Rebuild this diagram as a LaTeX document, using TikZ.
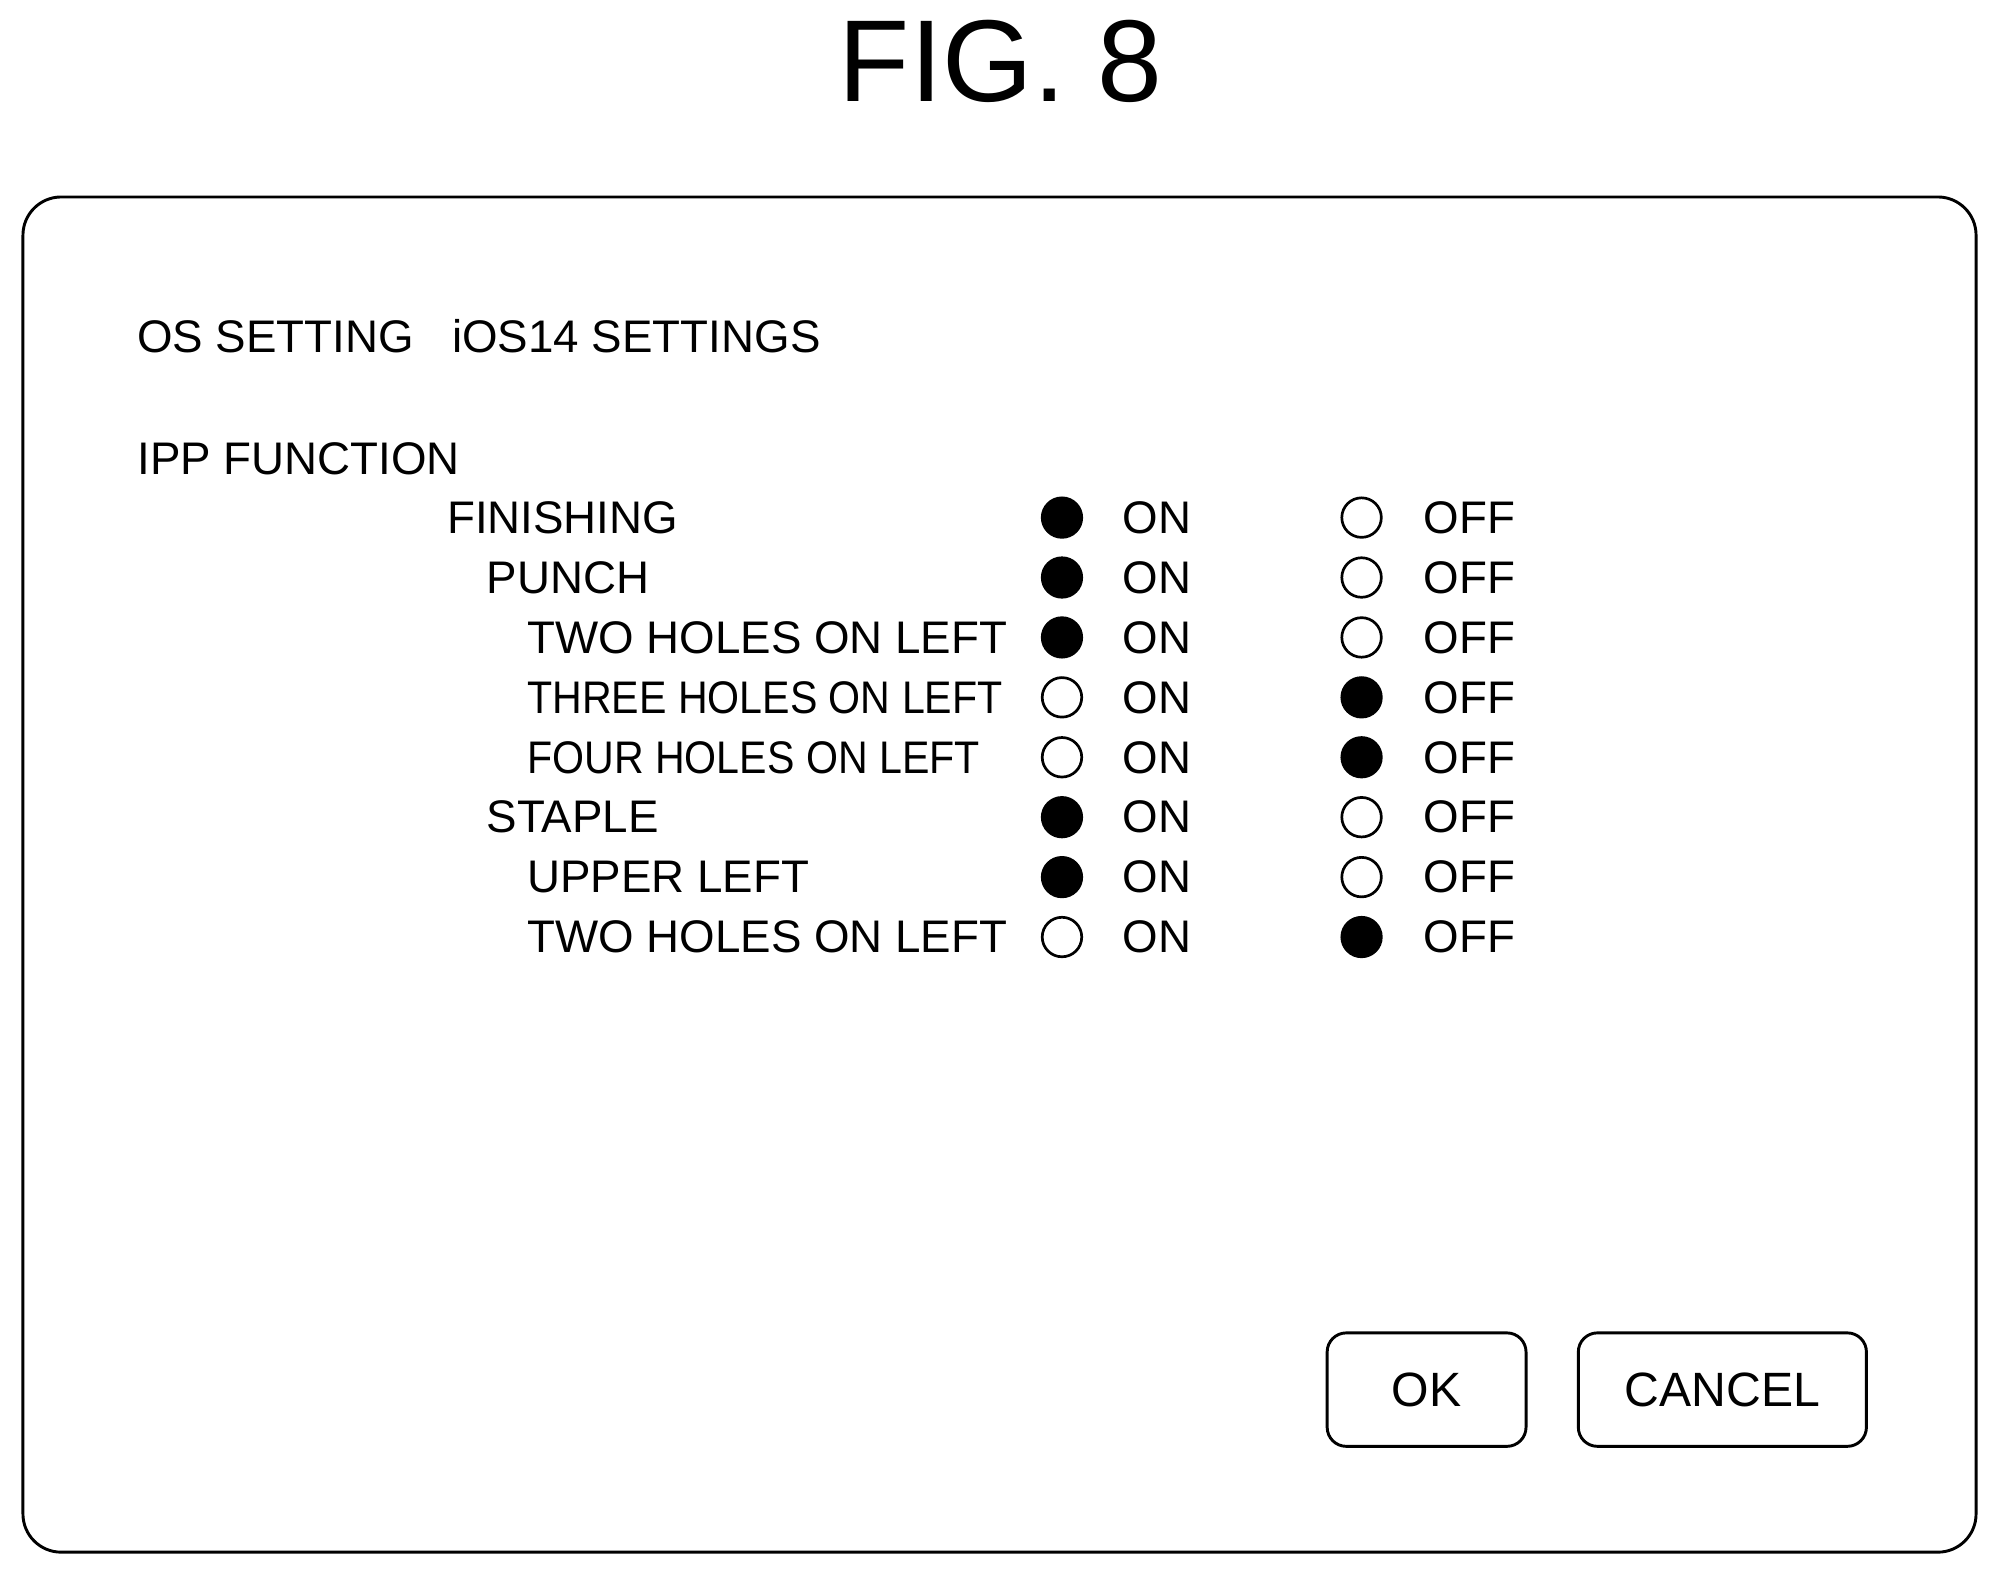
\documentclass[tikz,border=0pt]{standalone}
\usepackage{fontspec}
\setmainfont{Liberation Sans}
\usetikzlibrary{positioning}

\begin{document}
\begin{tikzpicture}[x=0.02cm,y=-0.02cm,thick,
  label node/.style={anchor=west,inner sep=0pt,font=\fontsize{20.4}{21}\selectfont},
  radio on/.style={circle,fill=black,draw,line width=1.2pt,minimum size=0.62cm,inner sep=0pt},
  radio off/.style={circle,draw,line width=1.2pt,minimum size=0.62cm,inner sep=0pt},
  button node/.style={draw,rounded corners=0.3cm,line width=1.3pt,font=\fontsize{21.5}{22}\selectfont}]

  \useasboundingbox (0,0) rectangle (1568,1236);

  \node (fig) at (785,48) {\fontsize{52}{52}\selectfont FIG. 8};

  % outer frame
  \node[draw,line width=1.3pt,rounded corners=0.6cm,minimum width=1532*0.02cm,
        minimum height=1063*0.02cm] (frame) at (784,686) {};

  \node[label node] (os) at (107,264) {OS SETTING\hspace{0.6cm}iOS14 SETTINGS};
  \node[label node] (ipp) at (107,360) {IPP FUNCTION};

  % rows: x of label / label / y / state of ON / width scale
  \foreach \x/\txt/\y/\st/\sx in {350/FINISHING/406/1/1, 381/PUNCH/453/1/1,
      413/TWO HOLES ON LEFT/500/1/1, 413/THREE HOLES ON LEFT/547/0/0.9,
      413/FOUR HOLES ON LEFT/594/0/0.9, 381/STAPLE/641/1/1,
      413/UPPER LEFT/688/1/1, 413/TWO HOLES ON LEFT/735/0/1}
  {
    \node[label node,xscale=\sx] (lab\y) at (\x,\y) {\txt};
    \ifnum\st=1
      \node[radio on] (on\y) at (833,\y) {};
      \node[radio off] (off\y) at (1068,\y) {};
    \else
      \node[radio off] (on\y) at (833,\y) {};
      \node[radio on] (off\y) at (1068,\y) {};
    \fi
    \node[label node] (ontxt\y) at (880,\y) {ON};
    \node[label node] (offtxt\y) at (1116,\y) {OFF};
  }

  \node[button node,minimum width=156*0.02cm,minimum height=89*0.02cm] (ok) at (1119,1090) {OK};
  \node[button node,minimum width=226*0.02cm,minimum height=89*0.02cm] (cancel) at (1351,1090) {CANCEL};

\end{tikzpicture}
\end{document}
